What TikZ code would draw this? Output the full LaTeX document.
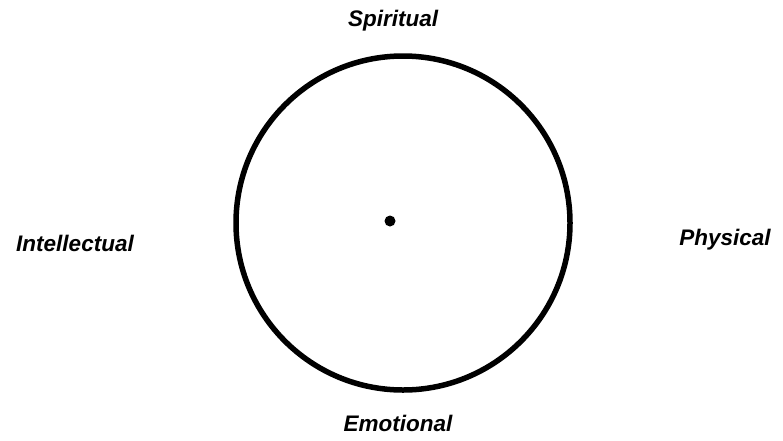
\documentclass[tikz,border=0pt]{standalone}
\usepackage{fontspec}
\setmainfont{Liberation Sans}
\begin{document}
\begin{tikzpicture}[x=1pt,y=-1pt,
  lbl/.style={font=\fontsize{22.5}{26}\selectfont\bfseries\itshape, inner sep=0pt}]
\useasboundingbox (0,0) rectangle (783,440);
\node[draw, line width=5.5pt, circle, minimum size=334pt, inner sep=0pt] (ring) at (403,223) {};
\fill (390,221) circle (5.5pt) coordinate (ctr);
\node[lbl] (sp) at (393,21) {Spiritual};
\node[lbl] (in) at (75,243) {Intellectual};
\node[lbl] (ph) at (725,240) {Physical};
\node[lbl] (em) at (398,423) {Emotional};
\end{tikzpicture}
\end{document}
